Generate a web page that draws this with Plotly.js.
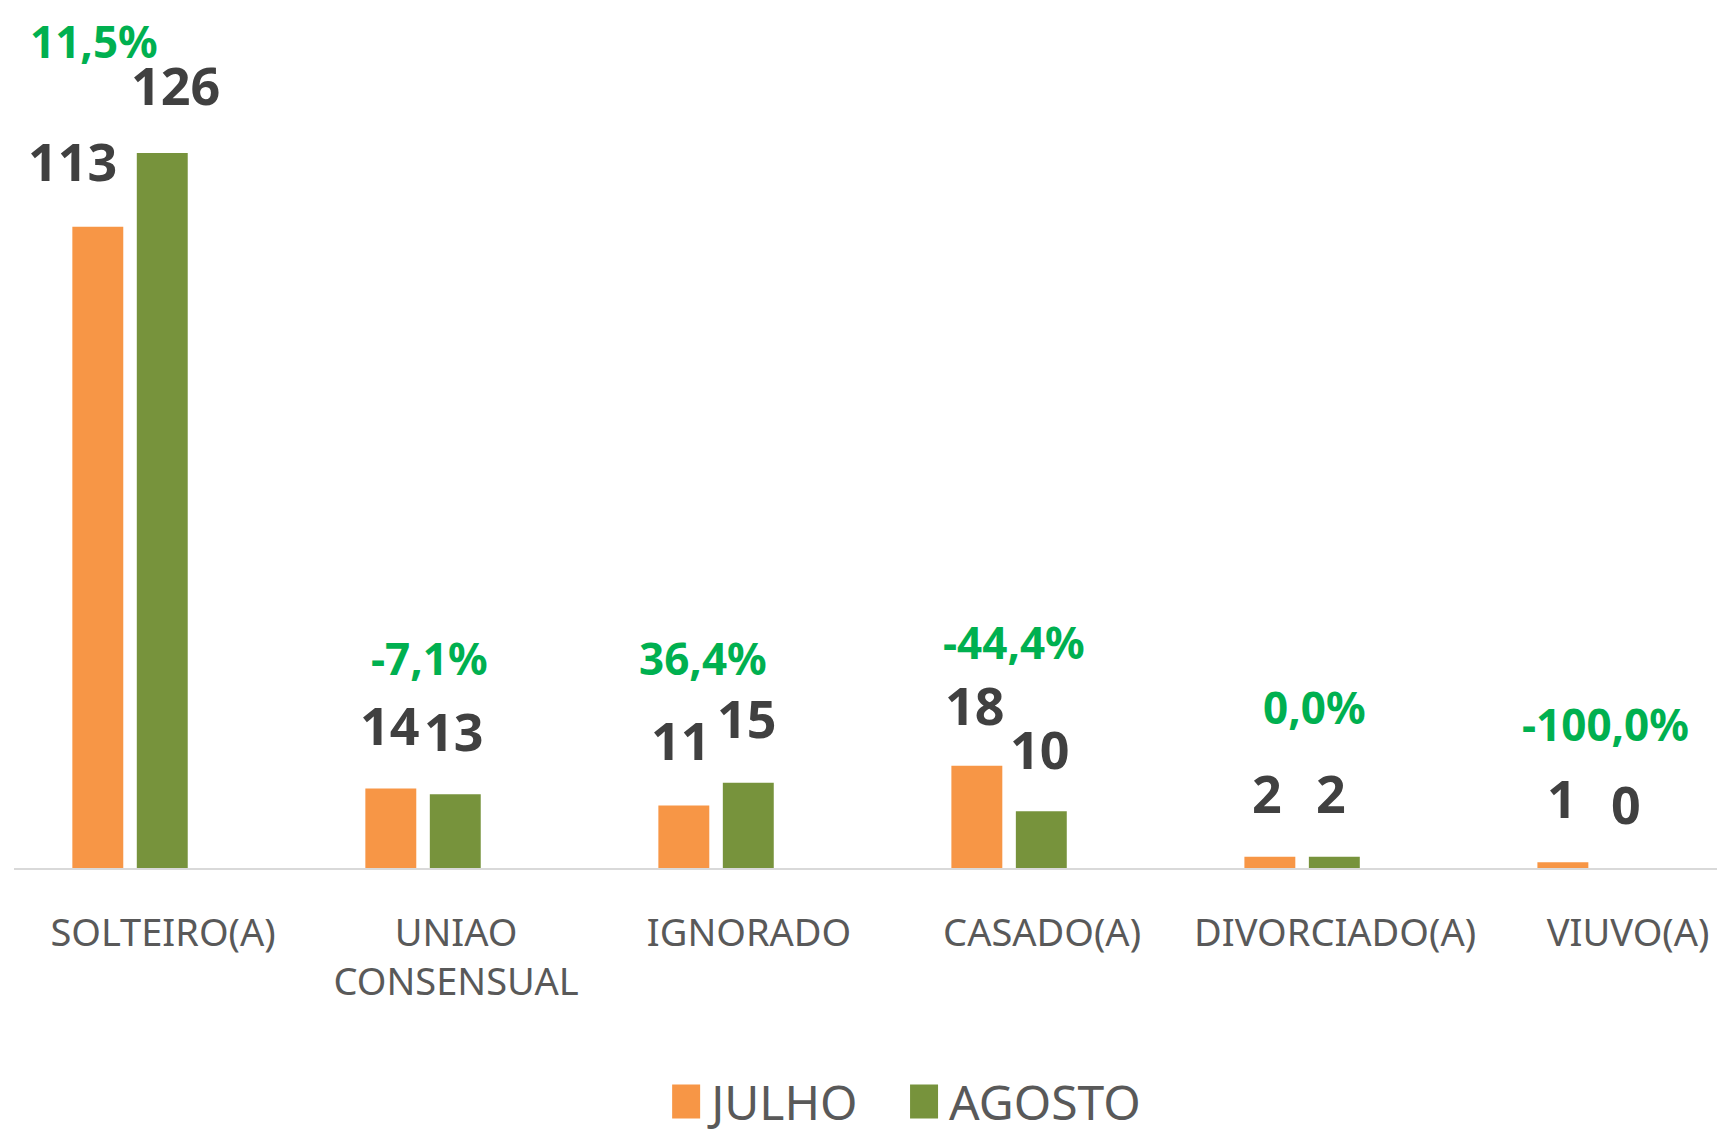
<!DOCTYPE html>
<html>
<head>
<meta charset="utf-8">
<script src="https://cdn.plot.ly/plotly-3.0.1.min.js"></script>
<style>
  html, body { margin: 0; padding: 0; background: #ffffff; }
  #chart { width: 1717px; height: 1135px; }
</style>
</head>
<body>
<div id="chart"></div>
<script>
// ---- data ----
const categorias = ["SOLTEIRO(A)", "UNIAO<br>CONSENSUAL", "IGNORADO", "CASADO(A)", "DIVORCIADO(A)", "VIUVO(A)"];
const julho = [113, 14, 11, 18, 2, 1];
const agosto = [126, 13, 15, 10, 2, 0];
const variacao = ["11,5%", "-7,1%", "36,4%", "-44,4%", "0,0%", "-100,0%"];
const serieNomes = ["JULHO", "AGOSTO"];

// ---- label placement (style only, pixels) ----
const barOffset = 32;
const julhoDx = [-26, -1, -3, -2, -3, -1];
const julhoDy = [66, 64, 66, 61, 64, 65];
const agostoDx = [13, -1, -1, -1, -3, -1];
const agostoDy = [68, 64, 65, 63, 64, 65];
const varDx = [-36, 6, -13, 5, 12, 10];
const varDy = [112, 131, 125, 124, 150, 138];

const corJulho = "#F79646";
const corAgosto = "#77933C";
const corValor = "#404040";
const corVar = "#00B050";
const fonte = "'Noto Sans', 'Open Sans', sans-serif";

const traces = [
  { type: "bar", name: serieNomes[0], x: categorias, y: julho, marker: { color: corJulho }, hoverinfo: "none", legend: "legend" },
  { type: "bar", name: serieNomes[1], x: categorias, y: agosto, marker: { color: corAgosto }, hoverinfo: "none", legend: "legend2" }
];

const annotations = [];
categorias.forEach((c, i) => {
  annotations.push({
    x: c, y: julho[i], xref: "x", yref: "y", text: String(julho[i]), showarrow: false,
    xshift: -barOffset + julhoDx[i], yshift: julhoDy[i], xanchor: "center", yanchor: "middle",
    font: { family: fonte, size: 52, color: corValor, weight: 700 }
  });
  annotations.push({
    x: c, y: agosto[i], xref: "x", yref: "y", text: String(agosto[i]), showarrow: false,
    xshift: barOffset + agostoDx[i], yshift: agostoDy[i], xanchor: "center", yanchor: "middle",
    font: { family: fonte, size: 52, color: corValor, weight: 700 }
  });
  annotations.push({
    x: c, y: Math.max(julho[i], agosto[i]), xref: "x", yref: "y", text: variacao[i], showarrow: false,
    xshift: varDx[i], yshift: varDy[i], xanchor: "center", yanchor: "middle",
    font: { family: fonte, size: 44, color: corVar, weight: 700 }
  });
});

const legendaBase = {
  orientation: "h", xanchor: "left", y: -0.313, yanchor: "bottom",
  font: { family: fonte, size: 48, color: "#595959" },
  itemwidth: 40, bgcolor: "rgba(0,0,0,0)"
};

const layout = {
  width: 1717, height: 1135,
  margin: { l: 14, r: 0, t: 0, b: 267, autoexpand: false },
  paper_bgcolor: "#ffffff", plot_bgcolor: "#ffffff",
  barmode: "group", bargap: 0.56, bargroupgap: 0.21,
  showlegend: true,
  legend: Object.assign({}, legendaBase, { x: 0.38 }),
  legend2: Object.assign({}, legendaBase, { x: 0.5197 }),
  xaxis: {
    type: "category", range: [-0.396, 5.416], fixedrange: true, automargin: false,
    showline: true, linecolor: "#D9D9D9", linewidth: 2,
    showgrid: false, zeroline: false, ticks: "",
    tickfont: { family: fonte, size: 38, color: "#595959" },
    ticklabelshift: 33, ticklabelstandoff: 30
  },
  yaxis: { visible: false, range: [0, 152.95], fixedrange: true, showgrid: false, zeroline: false },
  annotations: annotations,
  hovermode: false
};

function ajustarLegenda() {
  document.querySelectorAll("#chart .legendpoints path").forEach(p => {
    p.setAttribute("d", "M14,17H-14V-17H14Z");
  });
}

Plotly.newPlot("chart", traces, layout, { displayModeBar: false, staticPlot: true }).then(gd => {
  ajustarLegenda();
  gd.on("plotly_afterplot", ajustarLegenda);
});
</script>
</body>
</html>
